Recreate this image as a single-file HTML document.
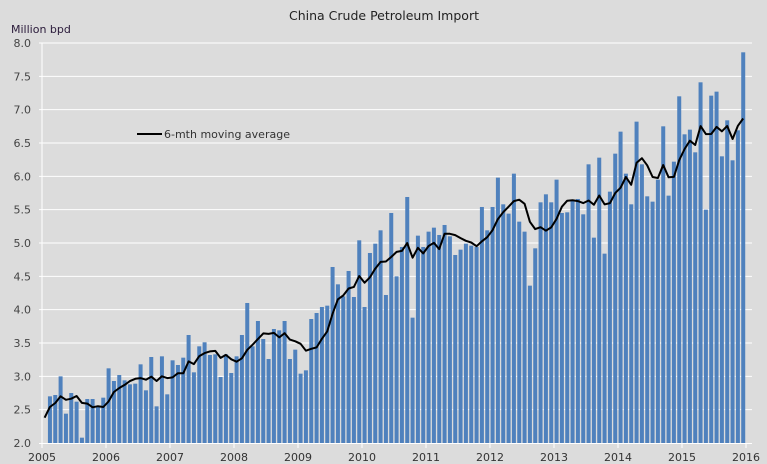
<!DOCTYPE html>
<html><head><meta charset="utf-8"><style>
html,body{margin:0;padding:0;background:#dcdcdc;}
svg{display:block;font-family:"DejaVu Sans","Liberation Sans",sans-serif;}
</style></head><body>
<svg id="c" width="767" height="464" xmlns="http://www.w3.org/2000/svg">
<rect width="767" height="464" fill="#dcdcdc"/>
<text x="384" y="20" text-anchor="middle" font-size="12.5" fill="#222">China Crude Petroleum Import</text>
<text x="11" y="33" font-size="11" fill="#2a1a3a">Million bpd</text>
<g id="grid"></g>
<g id="bars"></g>
<polyline id="ma" fill="none" stroke="#000" stroke-width="2" stroke-linejoin="round"/>
<line x1="137" y1="134" x2="162" y2="134" stroke="#000" stroke-width="2"/>
<text x="164" y="138" font-size="11" fill="#333">6-mth moving average</text>
</svg>
<script>
var v=[2.38,2.70,2.72,3.00,2.44,2.75,2.62,2.08,2.66,2.66,2.54,2.68,
3.12,2.93,3.02,2.94,2.88,2.89,3.18,2.79,3.29,2.55,3.30,2.73,
3.24,3.17,3.28,3.62,3.06,3.45,3.51,3.32,3.33,2.99,3.33,3.05,
3.30,3.62,4.10,3.45,3.83,3.56,3.26,3.71,3.69,3.83,3.26,3.40,
3.04,3.09,3.86,3.95,4.04,4.06,4.64,4.38,4.20,4.58,4.19,5.04,
4.04,4.85,4.99,5.19,4.22,5.45,4.50,4.94,5.69,3.88,5.11,4.94,
5.17,5.23,5.12,5.27,5.10,4.82,4.90,4.99,4.96,4.94,5.54,5.19,
5.54,5.98,5.58,5.44,6.04,5.32,5.17,4.36,4.92,5.61,5.73,5.61,
5.95,5.45,5.46,5.64,5.66,5.43,6.18,5.08,6.28,4.84,5.77,6.34,
6.67,6.04,5.58,6.82,6.18,5.70,5.62,5.95,6.75,5.71,6.22,7.20,
6.63,6.70,6.36,7.41,5.50,7.21,7.27,6.30,6.84,6.24,6.69,7.86];
var NS="http://www.w3.org/2000/svg";
function el(p,t,a,txt){var e=document.createElementNS(NS,t);for(var k in a)e.setAttribute(k,a[k]);if(txt)e.textContent=txt;p.appendChild(e);return e;}
function Y(x){return 443-(x-2)*66.67;}
var g=document.getElementById("grid"),b=document.getElementById("bars");
for(var i=0;i<=12;i++){var val=2+i*0.5,y=Y(val);
 if(i>0)el(g,"line",{x1:39,y1:y,x2:752,y2:y,stroke:"#fff","stroke-width":1});
 el(g,"text",{x:31,y:y+4,"text-anchor":"end","font-size":11,fill:"#444"},val.toFixed(1));}
el(g,"line",{x1:42,y1:43,x2:42,y2:447,stroke:"#fff","stroke-width":1});
el(g,"line",{x1:39,y1:443.5,x2:752,y2:443.5,stroke:"#fff","stroke-width":1});
for(var yr=0;yr<=11;yr++){var x=42+yr*64;
 el(g,"line",{x1:x,y1:443,x2:x,y2:448,stroke:"#fff"});
 el(g,"text",{x:x,y:461,"text-anchor":"middle","font-size":11,fill:"#333"},String(2005+yr));}
var pts=[];
for(var i=0;i<v.length;i++){var x=42+5.333*i;
 if(i>0)el(b,"rect",{x:x+0.6,y:Y(v[i]),width:4,height:443-Y(v[i]),fill:"#4f81bd"});
 var s=0,n=0;for(var j=Math.max(0,i-5);j<=i;j++){s+=v[j];n++;}
 pts.push((x+2.6).toFixed(1)+","+Y(s/n).toFixed(1));}
document.getElementById("ma").setAttribute("points",pts.join(" "));
</script>
</body></html>
